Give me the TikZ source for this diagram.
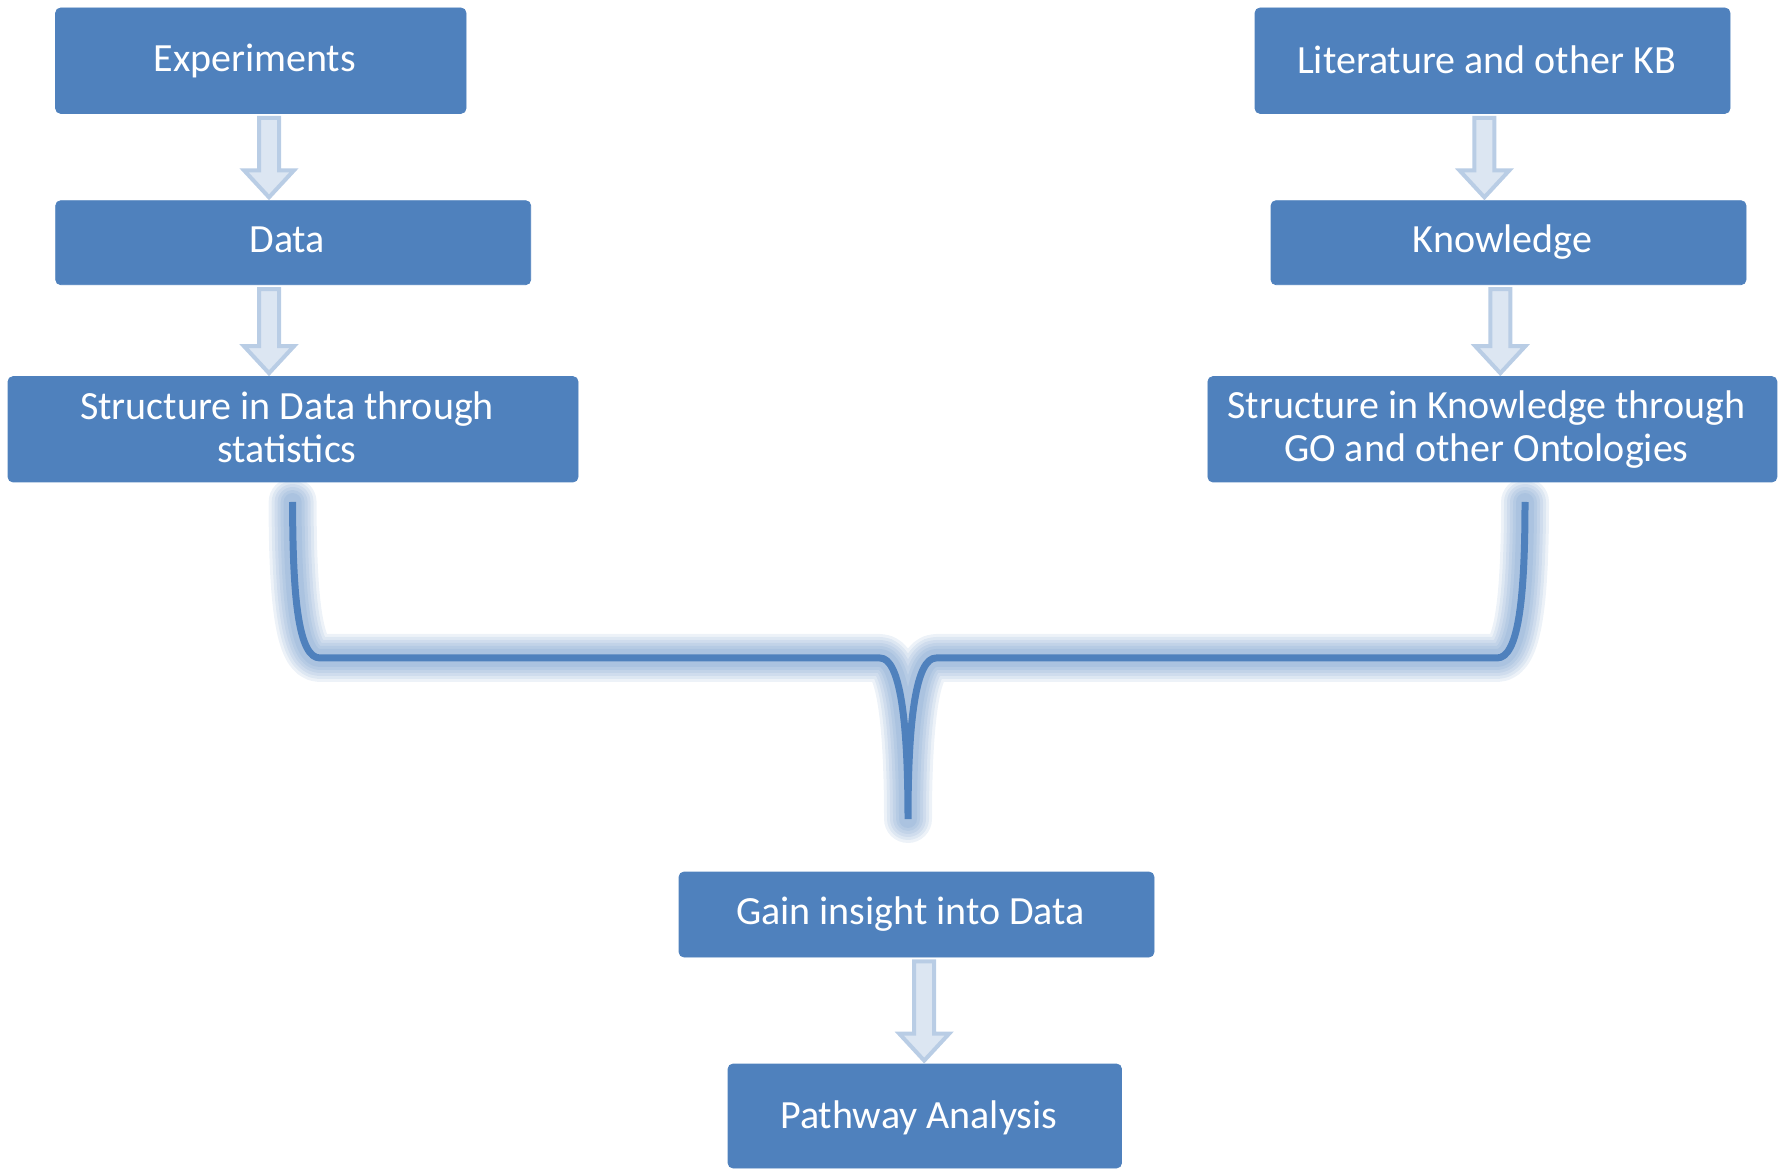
\documentclass[tikz,border=0pt]{standalone}
\usepackage{fontspec}
\setmainfont{Carlito}
\usetikzlibrary{calc}
\definecolor{boxblue}{HTML}{4F81BD}
\definecolor{afill}{HTML}{DCE6F2}
\definecolor{aline}{HTML}{B9CDE5}
\newcommand\blockarrow[3]{%
  \path (#2.south -| #1) coordinate (t) (#3.north -| #1) coordinate (b);
  \draw[barrow] ($(t)+(-10,4)$) -- ($(t)+(10,4)$) -- ($(b)+(10,-30)$) -- ($(b)+(25,-30)$)
    -- ($(b)+(0,-3)$) -- ($(b)+(-25,-30)$) -- ($(b)+(-10,-30)$) -- cycle;}
\begin{document}
\begin{tikzpicture}[x=0.5pt,y=-0.5pt,
  box/.style={draw=boxblue, fill=boxblue, rounded corners=2.5pt, inner sep=0pt},
  txt/.style={text=white, font=\fontsize{20}{21.5}\selectfont, align=center, inner sep=0pt, xshift=-3pt},
  barrow/.style={fill=afill, draw=aline, line width=2pt, line join=miter},
  glow/.style={draw=boxblue, opacity=0.1, line cap=round, line join=round},
  bracel/.style={draw=boxblue, line width=3.5pt, line join=round}]
\useasboundingbox (0,0) rectangle (1778,1170);
% boxes
\node[box, minimum width=205.2pt, minimum height=52.7pt] (exp) at (260.8,60.7) {};
\node[box, minimum width=237.5pt, minimum height=42pt] (data) at (293.2,242.7) {};
\node[box, minimum width=285pt, minimum height=52.7pt] (strL) at (293,429.3) {};
\node[box, minimum width=237.5pt, minimum height=52.7pt] (lit) at (1492.5,60.7) {};
\node[box, minimum width=237.5pt, minimum height=42pt] (know) at (1508.5,242.7) {};
\node[box, minimum width=284.5pt, minimum height=52.7pt] (strR) at (1492.4,429.3) {};
\node[box, minimum width=237.5pt, minimum height=42.5pt] (gain) at (916.5,914.5) {};
\node[box, minimum width=196.75pt, minimum height=52pt] (path) at (924.8,1116) {};
% texts
\node[txt] (expT) at (exp.center) {Experiments};
\node[txt] (dataT) at ([yshift=1.5pt]data.center) {Data};
\node[txt] (strLT) at ([yshift=1pt]strL.center) {Structure in Data through\\statistics};
\node[txt] (litT) at ([yshift=0.5pt]lit.center) {Literature and other KB};
\node[txt] (knowT) at ([yshift=0.5pt]know.center) {Knowledge};
\node[txt] (strRT) at (strR.center) {Structure in Knowledge through\\GO and other Ontologies};
\node[txt] (gainT) at (gain.center) {Gain insight into Data};
\node[txt] (pathT) at ([yshift=-1pt]path.center) {Pathway Analysis};
% arrow axes
\coordinate (axL) at (269,0);
\coordinate (axR1) at (1484.4,0);
\coordinate (axR2) at (1500.3,0);
\coordinate (axB) at (924.2,0);
\blockarrow{axL}{exp}{data}
\blockarrow{axL}{data}{strL}
\blockarrow{axR1}{lit}{know}
\blockarrow{axR2}{know}{strR}
\blockarrow{axB}{gain}{path}
% brace
\coordinate (bl) at (292.6,502);
\coordinate (br) at (1525,502);
\coordinate (bt) at (908,819);
\def\bracepath{(bl) .. controls (292.6,601) and (299,658) .. (320,658) -- (880,658)
  .. controls (900,658) and (908,720) .. (bt)
  (br) .. controls (1525,601) and (1518,658) .. (1497,658) -- (936,658)
  .. controls (916,658) and (908,720) .. (bt)}
\foreach \w in {24,21,18,15,12,9}{
  \draw[glow, line width=\w pt] \bracepath;
}
\draw[bracel] \bracepath;
\end{tikzpicture}
\end{document}
